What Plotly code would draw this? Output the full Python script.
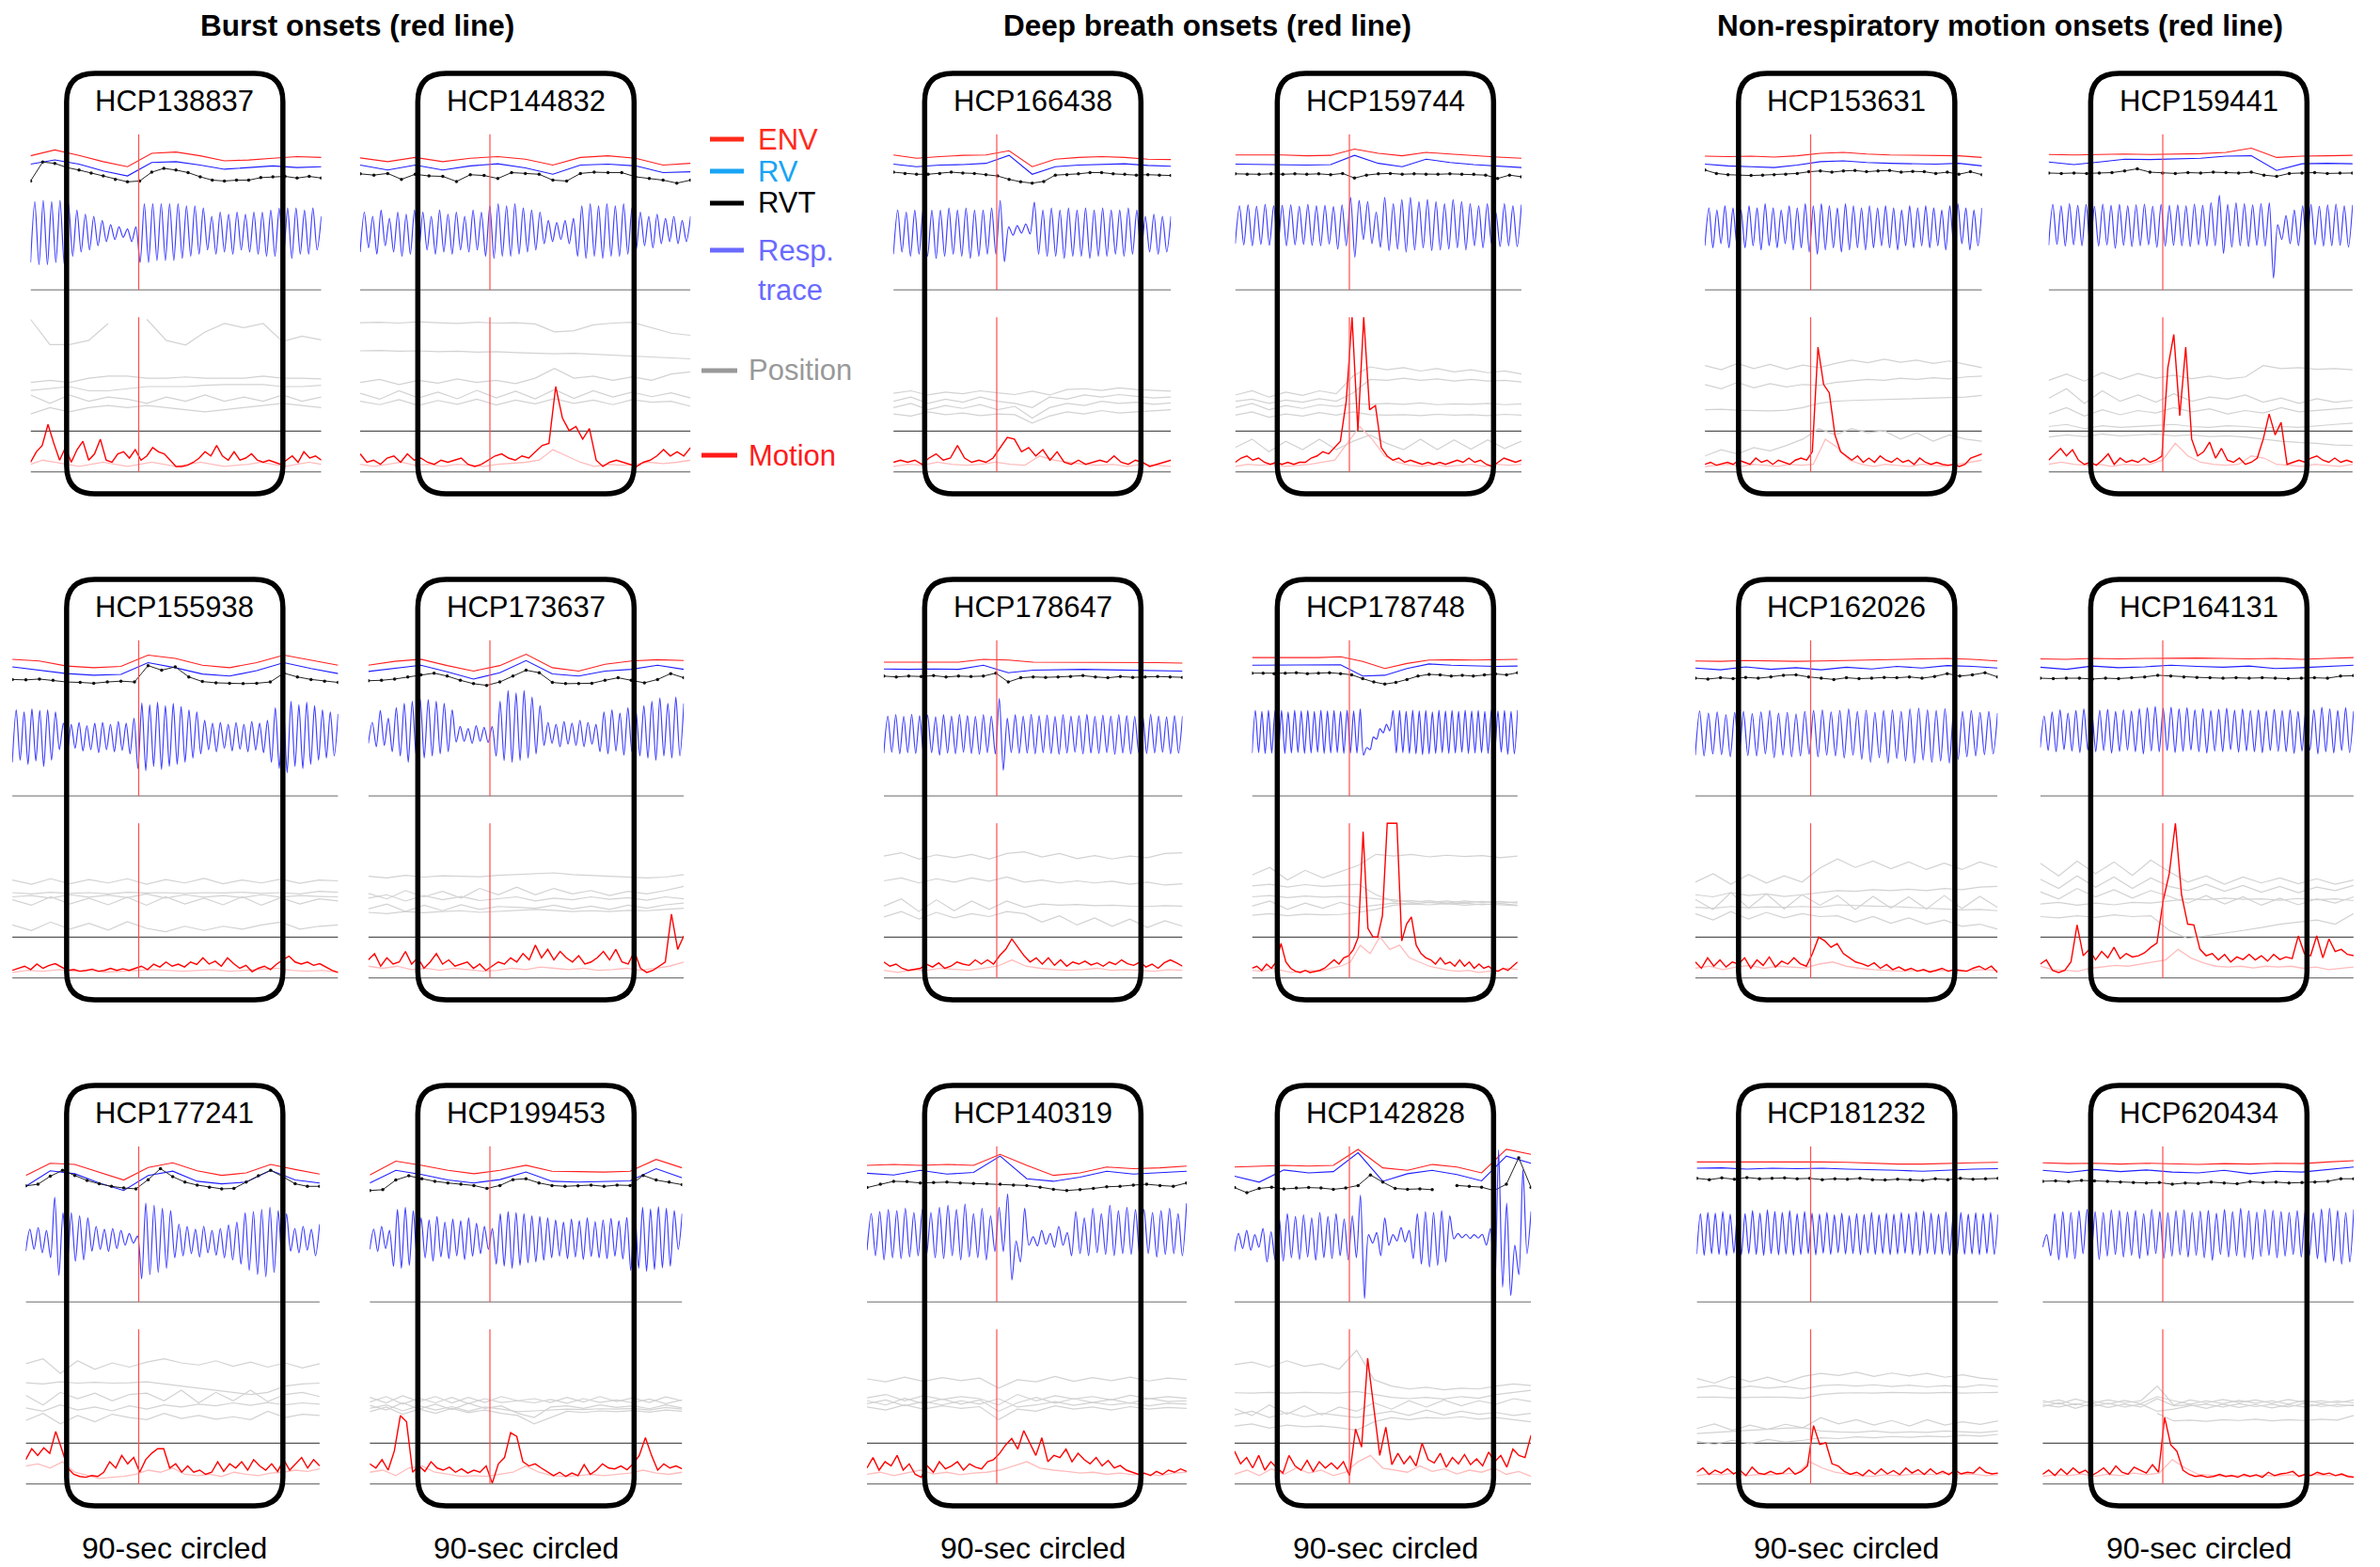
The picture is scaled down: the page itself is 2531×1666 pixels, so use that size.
import numpy as np
import plotly.graph_objects as go

W, H = 2531, 1666

col_titles = ["Burst onsets (red line)", "Deep breath onsets (red line)",
              "Non-respiratory motion onsets (red line)"]
subjects = ["HCP138837", "HCP144832", "HCP166438", "HCP159744", "HCP153631", "HCP159441",
            "HCP155938", "HCP173637", "HCP178647", "HCP178748", "HCP162026", "HCP164131",
            "HCP177241", "HCP199453", "HCP140319", "HCP142828", "HCP181232", "HCP620434"]
t_start = [-45, -54, -43, -47.5, -44, -47.5, -52.6, -50.6, -47, -40.5, -48, -51,
           -47, -50, -54, -47.8, -47.4, -50]
t_end = [76, 83.5, 72.5, 71.6, 71.3, 79, 83, 80.7, 77.3, 70, 77.8, 79.4,
         75.3, 80, 79, 75.6, 78, 79.5]
box_window = [-30, 60]
footer = "90-sec circled"

# ---------------- HCP138837 ----------------
env_138837 = [80.4, 81.8, 80.5, 79.0, 77.8, 81.0, 81.3, 80.4, 79.2, 79.4, 79.8, 80.2, 80.0]
rv_138837 = [78.4, 79.4, 78.4, 76.8, 75.6, 78.8, 79.0, 78.2, 77.2, 77.6, 78.0, 77.6, 77.8]
rvt_138837 = [74.4, 78.9, 78.6, 77.6, 77.0, 76.3, 75.6, 74.8, 74.2, 74.4, 76.5, 77.4, 77.0, 76.4, 75.4,
              74.6, 74.4, 74.6, 74.6, 75.2, 75.4, 75.5, 75.1, 75.5, 75.1]
pk_138837 = [69.5, 69.8, 69.5, 69.8, 69.0, 67.5, 66.5, 66.0, 65.0, 64.0, 63.5, 63.0, 63.5, 69.0, 69.0,
             69.0, 69.0, 69.0, 68.5, 68.5, 68.0, 66.0, 67.0, 66.5, 67.0, 66.5, 67.0, 67.0, 67.5, 68.0,
             68.0, 68.0, 67.5, 68.0, 66.0]
tr_138837 = [55.0, 54.5, 54.5, 55.0, 54.5, 56.5, 57.5, 58.0, 59.0, 60.0, 60.5, 61.0, 60.0, 55.0, 55.0,
             55.5, 55.5, 55.5, 56.0, 56.5, 57.0, 58.0, 57.0, 57.5, 57.0, 58.0, 57.5, 57.0, 56.5, 56.5,
             56.5, 56.0, 57.0, 57.0, 58.0]
pos_138837 = [
    [41.5, 35.5, 35.5, 36.5, 40.5, None, 41.5, 36.5, 35.4, 38.5, 40.5, 39.5, 40.5, 36.2, 37.5, 36.6],
    [26.5, 27.0, 26.5, 27.5, 28.0, 28.0, 27.5, 27.5, 27.8, 27.5, 27.5, 27.5, 28.0, 27.5, 27.5, 27.3],
    [24.6, 25.0, 25.5, 24.5, 24.5, 25.0, 25.5, 25.5, 25.5, 25.8, 26.0, 26.0, 26.0, 25.5, 25.5, 25.8],
    [23.5, 21.5, 23.5, 22.0, 23.0, 22.5, 21.5, 23.0, 22.0, 23.5, 22.0, 23.0, 22.0, 23.5, 22.0, 23.0],
    [19.0, 20.5, 19.5, 20.5, 21.0, 20.5, 21.0, 20.5, 20.0, 19.5, 20.0, 20.5, 21.0, 21.5, 21.0, 20.5]]
mot_138837 = [7.5, 10, 11.5, 16.5, 12, 8, 11, 7.5, 10.5, 12.5, 8, 9.5, 13, 8, 7.5, 9.5, 10, 8.5, 10.5, 8,
              9, 11, 10, 9.5, 8, 6.5, 6.5, 6.8, 7.5, 8.5, 10, 9, 11.5, 9, 8, 10, 8, 8.5, 9.5, 8, 7.5,
              8, 7.5, 7, 8, 9, 7.5, 10, 8.5, 9, 8]
pale_138837 = [7, 8, 7.5, 7, 6.5, 7, 7.5, 7, 6.5, 7, 7.5, 7, 6.5, 7, 7.5, 7, 6.5, 6.8, 7, 7.5, 7, 6.5,
               7, 7.5, 7]

# ---------------- HCP144832 ----------------
env_144832 = [79.9, 79.0, 80.0, 79.0, 79.8, 80.2, 79.6, 78.2, 80.0, 80.4, 79.8, 78.2, 78.6]
rv_144832 = [78.2, 77.0, 78.2, 77.0, 78.0, 78.5, 77.5, 76.0, 78.2, 78.4, 78.0, 76.4, 76.6]
rvt_144832 = [76.1, 75.8, 76.2, 74.8, 76.0, 75.6, 75.5, 74.3, 75.9, 75.7, 75.0, 76.4, 76.2, 76.0, 74.6,
              74.4, 76.2, 76.5, 76.4, 76.4, 75.4, 75.0, 74.6, 73.9, 74.6]
pk_144832 = [67, 66, 67.5, 65.5, 67, 66.5, 67.5, 67, 66, 67.5, 66.5, 67, 66, 67.5, 67, 68.5, 69, 68.5,
             69, 68, 67.5, 67, 65, 64.5, 65, 65.5, 68.5, 69, 68.5, 69, 68.5, 69, 68, 67, 66, 66.5,
             65.5, 66, 65, 66]
tr_144832 = [57.5, 58.5, 57, 59, 57.5, 56.5, 57, 57.5, 58, 57, 57.5, 57, 58, 57.5, 58, 56.5, 56, 56.5,
             56.5, 57, 57.5, 58, 59.5, 60, 60.5, 59.5, 56.5, 56, 56.5, 56, 56.5, 56.5, 57, 58, 59,
             58.5, 59.5, 60, 59.5, 60]
pos_144832 = [
    [40.7, 40.8, 40.6, 40.9, 40.7, 40.5, 40.8, 40.6, 40.7, 40.4, 38.5, 38.8, 40.2, 40.6, 40.8, 39.5, 38.2, 37.7],
    [34.0, 34.1, 33.9, 34.0, 33.8, 33.9, 33.7, 33.8, 33.6, 33.5, 33.3, 33.4, 33.2, 33.0, 32.8, 32.6, 32.4, 32.1],
    [26.5, 27.2, 26.0, 27.0, 26.3, 27.3, 26.5, 27.0, 26.2, 27.5, 29.8, 27.5, 28.0, 27.0, 27.8, 27.0, 28.5, 29.0],
    [23.9, 22.5, 24.5, 22.8, 24.2, 22.6, 24.6, 22.8, 24.4, 22.6, 24.8, 22.7, 24.5, 23.0, 24.2, 23.1, 24.0, 22.8],
    [22.0, 21.2, 22.4, 21.0, 22.2, 21.3, 22.5, 21.1, 22.3, 21.4, 22.6, 21.5, 22.3, 21.2, 22.4, 21.8, 22.0, 20.8]]
mot_144832 = [9.5, 7.5, 8, 7, 8.5, 9, 7.5, 9.5, 8, 8.5, 7.5, 7, 8, 7.5, 8, 8.5, 7, 6.5, 7, 8, 9, 9.5,
              8.5, 8, 9, 8.5, 10, 11.5, 12, 25.5, 18, 15, 16, 13, 15.5, 8, 6.5, 7.5, 8, 7.5, 7, 6.5,
              7.5, 8, 9, 10.5, 9, 10, 9, 11]
pale_144832 = [7, 6.5, 7, 7.5, 6.8, 7, 6.5, 7, 6.8, 6.5, 7, 7.2, 7.5, 8, 10.5, 9, 7.5, 6.5, 7, 6.8, 7,
               7.5, 7.2, 7.5, 8]

# ---------------- HCP166438 ----------------
env_166438 = [80.6, 79.8, 80.2, 80.5, 80.6, 81.6, 77.8, 79.6, 80.0, 80.2, 80.0, 79.6, 79.5]
rv_166438 = [78.4, 77.8, 78.2, 78.3, 78.6, 80.5, 76.0, 77.8, 78.2, 78.4, 78.5, 78.1, 77.9]
rvt_166438 = [76.5, 76.2, 76.0, 76.0, 76.2, 76.5, 76.3, 76.2, 75.9, 75.6, 74.8, 74.2, 73.9, 74.3, 75.8,
              75.9, 76.1, 76.4, 76.4, 76.1, 76.0, 75.8, 75.9, 75.8, 75.7]
pk_166438 = [67.5, 67, 67.5, 68, 67.5, 67.5, 68, 67.5, 68, 67.5, 67.5, 68, 69.8, 63.5, 63.8, 64.2, 69.4,
             67.5, 68, 67.5, 68, 67.5, 68, 67.5, 68, 67.5, 67.5, 68, 67.5, 66, 66.5, 66, 66]
tr_166438 = [57, 57.5, 56.5, 57, 56.5, 56, 56.5, 57, 56.5, 56, 56.5, 57, 57, 55.2, 61.5, 62, 61.8, 57,
             56.5, 56.5, 56, 56.5, 56.5, 56, 56.5, 56.5, 57, 56.5, 57, 57.5, 57.5, 57, 57.5]
pos_166438 = [
    [23.9, 24.5, 23.5, 24.2, 23.8, 24.5, 24.0, 23.6, 24.4, 23.5, 24.8, 25.0, 24.6, 25.2, 24.8, 24.6, 24.4],
    [22.0, 23.0, 21.5, 22.5, 21.8, 23.0, 22.0, 21.5, 20.5, 23.0, 22.5, 23.5, 23.0, 23.6, 23.2, 22.8, 23.0],
    [20.5, 21.5, 20.0, 21.0, 20.3, 21.2, 20.0, 20.8, 18.0, 20.5, 21.5, 21.0, 22.0, 21.5, 21.8, 21.3, 21.6],
    [19.0, 18.5, 19.5, 18.8, 19.2, 18.6, 19.0, 18.8, 16.8, 18.5, 19.5, 19.0, 19.8, 19.2, 19.5, 19.8, 20.0]]
mot_166438 = [7.5, 8, 7.5, 8, 7, 8.5, 9.5, 8, 8.5, 11.5, 8.5, 7.5, 8, 7.5, 8.5, 11, 13.4, 13, 10, 11, 9,
              10.5, 8, 10, 7.5, 7, 8, 7, 7.5, 8, 7.5, 9, 7.5, 7, 8, 7.5, 6.5, 7, 7.5, 8]
pale_166438 = [6.5, 7, 6.8, 7.5, 7, 6.8, 7, 7.5, 7, 6.8, 9, 8, 7.5, 7, 6.8, 7, 6.5, 7, 6.8, 6.5]

# ---------------- HCP159744 ----------------
env_159744 = [80.6, 80.6, 80.6, 80.4, 80.5, 82.0, 81.0, 80.4, 81.2, 80.8, 80.4, 80.1, 79.8]
rv_159744 = [78.4, 78.3, 78.2, 78.2, 78.3, 80.5, 78.6, 77.8, 79.6, 78.8, 78.3, 77.9, 77.6]
rvt_159744 = [76.1, 76.0, 76.0, 76.1, 76.0, 76.1, 76.0, 76.1, 75.9, 76.2, 75.1, 75.8, 76.1, 76.2, 76.0,
              76.1, 76.0, 76.0, 76.1, 76.0, 76.0, 75.8, 75.0, 75.8, 75.4]
pk_159744 = [68.5, 68.7, 68.4, 68.8, 68.5, 68.6, 68.7, 68.4, 68.8, 68.5, 68.6, 68.3, 68.7, 70.5, 69.8,
             69.5, 67, 70.5, 69, 70, 70.5, 69.5, 70, 69.5, 69, 70, 69.5, 69, 68.5, 69, 67, 69, 68.5, 68.8]
tr_159744 = [59.5, 59.2, 59, 59.3, 59.1, 59.4, 59, 59.2, 59.3, 59.1, 59, 59.4, 58.2, 59, 56.3, 60.5,
             59.5, 58.6, 57.8, 58.2, 57.5, 58, 58.5, 57.8, 58, 58.2, 58.5, 58, 59, 58.5, 59.5, 58.8,
             59, 58.8]
pos_159744 = [
    [23.5, 24.5, 23.0, 24.2, 23.4, 24.5, 23.8, 28.0, 30.2, 29.5, 30.0, 29.2, 29.8, 29.0, 29.5, 28.8, 29.2, 28.5],
    [22.0, 22.5, 21.5, 22.3, 21.8, 22.6, 22.0, 24.0, 27.2, 27.0, 27.5, 27.0, 27.3, 26.8, 27.2, 26.8, 27.0, 26.6],
    [20.5, 21.5, 20.0, 21.0, 20.3, 21.2, 20.8, 21.5, 21.3, 21.5, 21.3, 21.6, 21.2, 21.4, 21.3, 21.5, 21.2, 21.4],
    [18.7, 19.5, 18.2, 19.0, 18.5, 19.3, 18.7, 19.5, 18.8, 18.7, 18.8, 18.6, 18.9, 18.7, 18.8, 18.6, 18.9, 18.7],
    [11.0, 13.0, 10.0, 12.5, 10.5, 13.0, 10.5, 12.5, 14.0, 12.0, 10.5, 13.0, 10.5, 12.8, 10.6, 12.8, 10.8, 12.5]]
mot_159744 = [7.5, 8.5, 9, 8, 8.5, 7.5, 7, 7.5, 7, 7.5, 7, 7.5, 7.5, 8.5, 9, 10, 9.5, 11, 12.5, 22, 42,
              15, 42, 20, 21, 11, 9, 8, 8.5, 7.5, 8, 7.5, 7, 7.5, 7, 7.5, 7, 7.5, 8, 7.5, 8.5, 7.5, 8,
              7, 6.5, 7.5, 8.5, 8, 7.5, 8]
pale_159744 = [6.5, 7, 6.8, 7, 6.5, 6.8, 7, 7.5, 8, 12, 16, 13, 9, 7.5, 6.8, 6.5, 7, 6.5, 6.8, 7, 6.5,
               7, 6.8, 7]

# ---------------- HCP153631 ----------------
env_153631 = [80.3, 80.2, 80.3, 80.1, 80.4, 81.0, 81.2, 80.8, 80.6, 80.5, 80.4, 80.4, 80.0]
rv_153631 = [78.4, 78.0, 77.8, 77.6, 78.2, 79.0, 79.2, 78.8, 78.6, 78.5, 78.4, 78.6, 78.0]
rvt_153631 = [77.0, 76.2, 75.9, 75.8, 75.7, 75.8, 75.9, 76.0, 76.2, 76.6, 76.8, 76.5, 76.8, 76.9, 76.6,
              76.8, 76.9, 76.5, 76.7, 76.6, 76.2, 76.5, 76.0, 76.6, 75.9]
pk_153631 = [68, 67.5, 68.5, 68, 67.5, 68.5, 68, 69, 68, 67.5, 68.5, 68, 69, 68.5, 69, 68.5, 68, 69,
             68.5, 68, 68.5, 68, 68.5, 68, 67.5, 68.5, 68, 68.5, 68, 67.5, 68.5, 69, 68, 67.5, 68]
tr_153631 = [59, 58.5, 59.5, 58.5, 59, 58.5, 59, 58, 59, 58.5, 59.5, 58, 58.5, 57.5, 57, 58, 58.5, 57.5,
             58, 58.5, 58, 58.5, 59, 58.5, 58, 59, 58.5, 59, 58.5, 59, 58, 59, 59.5, 58, 59]
pos_153631 = [
    [30.5, 29.5, 31.0, 29.8, 30.8, 29.6, 30.6, 30.0, 31.0, 31.8, 31.2, 32.0, 31.3, 31.8, 31.0, 31.6, 30.8, 30.0],
    [26.0, 25.0, 26.5, 25.2, 26.2, 25.4, 26.0, 25.8, 26.5, 26.8, 27.2, 27.0, 27.5, 27.2, 27.6, 27.3, 27.8, 28.0],
    [20.0, 20.1, 19.9, 19.8, 19.7, 19.9, 20.5, 21.5, 22.0, 22.2, 22.3, 22.5, 22.6, 22.6, 22.7, 22.8, 23.0, 23.4],
    [9.0, 10.5, 9.5, 11.0, 10.2, 11.5, 13.0, 15.5, 14.0, 15.5, 14.5, 15.0, 13.0, 14.5, 12.5, 14.0, 13.0, 12.5]]
mot_153631 = [7, 7.5, 6.8, 7.2, 7.5, 7, 8, 7.5, 7, 8.5, 7.5, 8, 7, 8, 7.5, 7, 8, 8.5, 8, 10, 34.9, 26,
              24, 14, 10, 9, 8, 9, 7.5, 8.5, 7.5, 9, 8, 7.5, 8.5, 7.5, 8, 7, 8.5, 7.5, 7, 7.5, 7, 6.8,
              7, 6.5, 7, 8.5, 9, 9.5]
pale_153631 = [6.5, 6.8, 7, 6.5, 7, 6.8, 6.5, 7, 6.8, 7, 13, 11, 8, 7, 6.5, 7, 6.8, 6.5, 7, 6.8, 6.5,
               7, 7.5, 8]

# ---------------- HCP159441 ----------------
env_159441 = [80.7, 80.6, 80.7, 80.8, 80.7, 80.8, 80.9, 81.2, 82.2, 80.0, 80.3, 80.4, 80.5]
rv_159441 = [78.9, 78.3, 78.9, 79.6, 79.5, 79.6, 79.8, 80.3, 80.4, 76.9, 78.5, 78.6, 78.5]
rvt_159441 = [76.3, 76.2, 76.3, 76.2, 76.3, 76.4, 76.8, 77.3, 76.5, 76.3, 76.2, 76.4, 76.3, 76.5, 76.4,
              76.3, 76.5, 75.8, 75.5, 76.2, 76.3, 76.4, 76.2, 76.3, 76.3]
pk_159441 = [68.8, 68.5, 69, 68.6, 68.8, 68.4, 68.9, 68.6, 68.8, 68.5, 68.7, 68.9, 68.4, 68.8, 68.6,
             68.7, 68.5, 68.9, 68.6, 69.2, 71, 68.8, 69.2, 69, 68.7, 69, 69.2, 64, 66.2, 67.5, 68.5,
             68.8, 68.4, 68.7, 68.9, 68.5, 68.7]
tr_159441 = [59.1, 59.3, 58.9, 59.2, 59.0, 58.7, 58.9, 59.2, 58.4, 59.1, 58.8, 59.0, 59.2, 58.6, 58.9,
             59.1, 59.0, 58.8, 59.2, 58.9, 59.0, 57.2, 58.7, 59.0, 58.8, 59.1, 58.9, 51.3, 60.5, 59.5,
             59.0, 58.8, 59.2, 58.9, 59.0, 59.1, 58.7]
pos_159441 = [
    [27.0, 28.5, 26.8, 28.8, 27.2, 28.6, 27.5, 28.2, 27.4, 28.0, 27.3, 27.8, 30.5, 29.8, 30.0, 29.6, 29.8, 29.5],
    [22.7, 25.0, 21.5, 24.5, 22.0, 23.5, 21.8, 23.8, 22.0, 23.0, 22.5, 23.5, 21.8, 22.8, 21.5, 22.6, 21.8, 22.2],
    [19.0, 20.5, 18.5, 20.0, 18.8, 19.8, 19.2, 20.5, 19.5, 20.2, 19.0, 19.8, 19.2, 20.5, 19.5, 19.8, 20.2, 20.5],
    [16.0, 16.5, 15.5, 16.2, 15.8, 16.0, 16.2, 16.5, 16.0, 15.8, 16.2, 16.0, 15.6, 16.0, 15.8, 16.2, 16.5, 16.8],
    [13.5, 14.0, 13.6, 14.2, 13.8, 14.0, 14.2, 13.8, 14.0, 13.6, 13.8, 13.5, 13.0, 12.5, 12.2, 12.0, 11.6, 11.5]]
mot_159441 = [8, 9.5, 10.8, 9, 10.5, 8, 7, 7.5, 6.8, 8, 9.5, 7, 8.5, 7.5, 8, 7.5, 8.5, 7.5, 8, 9, 30,
              37.9, 18.6, 34.9, 13, 9, 10, 12.3, 8.5, 10.8, 8, 7.5, 8.5, 7, 7.5, 8.5, 13, 19, 14, 17,
              7, 7.5, 8, 7.5, 8.5, 9, 8, 7.5, 8.5, 7.5, 8, 7.5]
pale_159441 = [7, 7.5, 7, 6.8, 7, 6.5, 7, 6.8, 7, 8, 12, 9, 7.5, 7, 6.8, 7, 9, 8.5, 7, 6.8, 6.5, 7,
               6.8, 6.5, 7]

# ---------------- HCP155938 ----------------
env_155938 = [81.0, 80.6, 79.4, 79.0, 79.3, 82.0, 81.2, 79.6, 79.0, 80.2, 82.0, 80.8, 79.6]
rv_155938 = [79.2, 78.4, 77.6, 77.2, 77.4, 80.2, 79.0, 77.5, 77.0, 78.3, 80.2, 78.8, 77.6]
rvt_155938 = [76.2, 76.1, 76.3, 76.0, 75.6, 75.5, 75.3, 75.6, 75.8, 75.6, 79.5, 78.4, 79.2, 76.8, 75.7,
              75.4, 75.3, 75.2, 75.3, 75.6, 77.7, 76.8, 76.2, 75.8, 75.5]
pk_155938 = [69, 68.5, 69.2, 68.8, 69, 68.5, 65.8, 65.5, 66, 65.2, 65.8, 66, 65.5, 66.2, 65.8, 67,
             70.6, 70.2, 70.8, 70, 70.5, 69.8, 69, 68.5, 66.5, 65.8, 66, 65.5, 66, 65.5, 66.2, 65.8,
             66.5, 69.5, 70.5, 71, 70.2, 70.8, 70, 69, 68.5, 68]
tr_155938 = [56.5, 57, 56, 56.8, 55.5, 57, 59.5, 59, 59.8, 59.2, 59.5, 58.8, 59.5, 59, 59.3, 58.5, 55,
             54.5, 55.5, 54.8, 55.5, 56, 56.5, 57.5, 58.5, 59.5, 59, 59.8, 59.2, 59.6, 59, 59.4, 58.8,
             56.5, 55, 54, 55.5, 55, 56, 57, 57.5, 58]
pos_155938 = [
    [28.5, 27.5, 28.8, 27.6, 28.6, 27.8, 28.8, 27.5, 28.6, 27.8, 28.9, 27.6, 28.5, 27.8, 28.7, 27.7, 28.5, 28.3],
    [25.5, 25.2, 25.6, 25.3, 25.5, 25.2, 25.6, 25.4, 25.5, 25.3, 25.5, 25.4, 25.6, 25.3, 25.5, 25.2, 25.8, 25.6],
    [24.5, 24.8, 24.2, 25.0, 24.4, 24.9, 24.3, 25.2, 24.2, 25.0, 24.4, 24.8, 24.3, 25.0, 24.4, 24.8, 24.6, 24.5],
    [23.8, 22.5, 24.5, 22.8, 24.2, 22.6, 24.4, 22.5, 24.5, 22.8, 24.2, 22.6, 24.5, 22.5, 24.3, 22.8, 24.0, 23.5],
    [17.8, 16.5, 18.5, 16.8, 18.2, 16.6, 18.6, 17.0, 16.2, 17.5, 16.5, 17.5, 16.8, 17.8, 18.5, 16.8, 17.5, 17.8]]
mot_155938 = [7, 7.5, 8, 7.2, 8.5, 7.5, 8.2, 8.6, 7.8, 7, 7.2, 6.8, 7, 7.3, 6.8, 7, 7.5, 7, 7.4, 7, 7.5,
              8, 7.2, 8.5, 7.8, 9, 8, 8.5, 7.8, 9, 8.4, 10, 8.5, 9.2, 8, 10, 8.6, 7.5, 8.2, 6.7, 7.5, 8,
              7.2, 8.5, 9.5, 10.4, 9, 8.5, 9, 8.2, 8.6, 7.8, 7, 6.5]
pale_155938 = [6.5, 7, 6.8, 7.2, 6.8, 7, 6.6, 6.8, 7, 7.2, 7, 6.8, 7, 7.2, 6.8, 7, 7.2, 7.5, 7, 6.8, 7,
               6.5]

# ---------------- HCP173637 ----------------
env_173637 = [79.6, 80.5, 81.0, 79.5, 78.2, 79.5, 82.2, 79.0, 78.2, 79.8, 80.6, 80.9, 80.7]
rv_173637 = [78.1, 78.8, 79.6, 78.0, 76.3, 77.8, 80.7, 77.5, 77.0, 78.2, 78.6, 79.6, 78.6]
rvt_173637 = [75.9, 76.0, 76.3, 76.8, 77.3, 77.7, 77.0, 76.0, 75.2, 74.8, 75.6, 77.0, 78.4, 77.8, 75.5,
              75.2, 75.2, 75.3, 76.0, 76.6, 76.0, 75.4, 76.2, 77.6, 76.6]
pk_173637 = [66, 68.8, 67, 69.5, 70.5, 71, 71.5, 71.4, 71, 70.5, 69, 65, 64.5, 65.2, 64.8, 65, 71, 73.6,
             73, 73.6, 72, 70, 66, 65.5, 66.2, 65.8, 66.5, 66, 65.5, 68.5, 69, 68.2, 69.5, 68.8, 70,
             71, 71.8, 70.5, 72, 70.5]
tr_173637 = [61, 60.2, 60.5, 59, 58, 56.5, 58, 57.5, 58, 58.5, 59, 61.3, 61.5, 61, 61.5, 61.2, 58, 56.9,
             56.5, 56.9, 57.5, 58.5, 60.5, 61, 60.2, 60.8, 60.5, 60.2, 60.8, 59, 58.5, 59.2, 58.2, 59,
             58, 57.5, 57, 58, 57.5, 58]
pos_173637 = [
    [29.4, 29.0, 29.6, 29.2, 29.5, 29.4, 29.3, 29.6, 29.8, 30.0, 30.2, 29.8, 29.6, 29.4, 29.3, 29.0, 29.2, 29.8],
    [25.3, 24.0, 26.0, 24.5, 25.8, 24.2, 26.5, 25.0, 26.8, 25.0, 26.5, 25.2, 26.0, 24.8, 25.8, 25.2, 26.0, 27.0],
    [24.2, 25.0, 23.5, 24.8, 23.8, 24.6, 23.6, 24.0, 24.5, 23.5, 24.2, 23.8, 24.5, 23.9, 24.3, 23.7, 24.5, 24.0],
    [21.6, 22.8, 21.0, 22.5, 21.2, 22.6, 21.5, 22.2, 22.0, 21.8, 22.5, 21.6, 22.3, 21.5, 22.5, 21.8, 22.6, 23.0],
    [20.8, 20.5, 21.0, 20.7, 21.0, 21.2, 20.8, 21.0, 21.2, 21.5, 21.3, 21.0, 21.2, 21.0, 21.3, 21.2, 21.5, 21.8]]
mot_173637 = [9.5, 11, 8, 10, 8.5, 9, 11.5, 8.5, 10, 7.5, 9, 11, 8.5, 9.5, 8, 8.5, 9, 7.5, 8.5, 7, 8, 9,
              8.5, 10, 9, 11, 9.5, 13, 10, 12, 9.5, 11.5, 10, 9, 10.5, 8.5, 9, 10, 11.5, 9.5, 12, 9,
              8.5, 11.5, 7.5, 6.5, 7, 8, 9, 20.4, 12, 15.2]
pale_173637 = [8, 7.5, 8, 7.2, 7.5, 7, 7.5, 7.2, 6.8, 7, 7.5, 7.2, 7.8, 7.5, 7.2, 7.5, 7, 7.2, 7.5, 7,
               7.5, 8, 9]

# ---------------- HCP178647 ----------------
env_178647 = [80.3, 80.3, 80.4, 80.3, 81.0, 80.8, 80.3, 80.3, 80.2, 80.3, 80.2, 80.2, 80.1]
rv_178647 = [78.7, 78.6, 78.7, 78.6, 79.6, 77.8, 78.4, 78.5, 78.6, 78.5, 78.4, 78.3, 78.2]
rvt_178647 = [77.0, 76.8, 77.0, 76.9, 77.1, 76.8, 77.0, 76.9, 77.0, 77.7, 75.6, 76.6, 76.8, 76.7, 76.8,
              76.9, 77.1, 76.8, 76.6, 76.9, 76.7, 76.8, 76.9, 76.8, 76.7]
pk_178647 = [67.5, 67.8, 67.4, 67.9, 67.6, 67.7, 67.3, 67.8, 67.5, 67.9, 67.6, 67.4, 67.8, 67.5, 71.7,
             67, 67.8, 67.5, 67.9, 67.6, 67.7, 67.4, 67.8, 67.5, 67.6, 67.9, 67.4, 67.7, 67.5, 67.8,
             67.6, 67.4, 67.7, 67.9, 67.5, 67.3, 67.6, 67.5]
tr_178647 = [58.7, 58.9, 58.5, 58.8, 58.6, 58.4, 58.8, 58.2, 58.7, 58.5, 58.9, 58.6, 58.4, 58.8, 58.5,
             54.6, 58.8, 58.6, 58.7, 58.5, 58.8, 58.6, 58.4, 58.7, 58.9, 58.5, 58.7, 58.6, 58.8, 58.4,
             58.7, 58.5, 58.8, 58.6, 58.7, 58.9, 58.5, 58.7]
pos_178647 = [
    [34.2, 35.0, 33.5, 34.5, 33.8, 34.6, 33.5, 34.8, 35.2, 34.0, 34.8, 33.6, 34.3, 33.5, 34.2, 33.8, 34.8, 35.0],
    [28.3, 29.0, 27.8, 28.8, 28.0, 29.0, 28.2, 29.2, 28.0, 28.5, 27.8, 28.3, 27.8, 28.2, 27.5, 28.0, 27.3, 27.6],
    [22.3, 24.0, 21.0, 23.8, 21.2, 23.5, 21.5, 23.5, 22.0, 22.8, 22.5, 22.7, 22.4, 22.5, 22.3, 22.2, 22.4, 22.3],
    [19.7, 21.0, 19.2, 20.8, 19.5, 20.5, 19.8, 21.0, 20.5, 18.5, 20.0, 17.8, 19.5, 17.5, 19.2, 17.2, 18.8, 17.5]]
mot_178647 = [9, 8, 8.5, 7.5, 7, 7.2, 7.5, 8.5, 7.8, 8.8, 7.5, 8, 9, 8.5, 8.2, 9.5, 8.5, 9.5, 8.5, 10.5,
              12, 14.5, 12.5, 10.5, 9, 10, 8.5, 10, 8.2, 9.5, 8, 9, 8.5, 9.2, 8.3, 8.8, 8, 9, 8.4, 9.5,
              8.6, 8.2, 9, 7.8, 8.5, 7.5, 8.8, 9.5, 8.8, 8]
pale_178647 = [7, 6.5, 7.2, 7, 7.5, 7.2, 7, 7.5, 8, 9.5, 8, 7.5, 7.2, 7, 7.2, 7.5, 7, 7.2, 7, 6.8, 7.2, 7]

# ---------------- HCP178748 ----------------
env_178748 = [81.4, 81.4, 81.4, 81.4, 81.6, 80.5, 78.8, 80.0, 80.8, 80.9, 80.8, 80.9, 81.0]
rv_178748 = [79.6, 79.6, 79.7, 79.6, 79.7, 77.0, 77.2, 78.8, 79.9, 79.6, 79.4, 79.3, 79.4]
rvt_178748 = [77.7, 77.7, 77.6, 77.7, 77.8, 77.6, 77.7, 77.8, 77.6, 77.3, 76.4, 75.6, 75.1, 75.5, 76.2,
              77.0, 77.4, 77.3, 77.0, 77.2, 77.0, 77.3, 77.5, 77.3, 77.8]
pk_178748 = [68.8, 68.6, 68.9, 68.7, 68.8, 68.5, 68.9, 68.7, 68.8, 68.6, 68.9, 68.7, 68.8, 68.6, 68.9,
             68.7, 69.2, 60.0, 62.5, 64.5, 65.5, 68.8, 68.8, 68.6, 68.9, 68.7, 68.8, 68.5, 68.9, 68.7,
             68.8, 68.6, 68.9, 68.7, 68.8, 68.6, 68.9, 68.7, 68.8, 68.6, 68.9]
tr_178748 = [58.7, 58.8, 58.6, 58.7, 58.9, 58.6, 58.7, 58.8, 58.6, 58.7, 58.9, 58.6, 58.7, 58.8, 58.6,
             58.7, 58.7, 58.2, 59.5, 62.0, 63.5, 64.0, 58.7, 58.8, 58.6, 58.5, 58.3, 58.5, 58.6, 58.8,
             58.6, 58.7, 58.9, 58.6, 58.7, 58.8, 58.6, 58.7, 58.9, 58.4, 58.5]
pos_178748 = [
    [29.7, 31.5, 28.5, 30.8, 29.0, 30.5, 32.0, 34.6, 34.2, 34.6, 34.0, 34.4, 34.1, 34.3, 33.8, 34.2],
    [27.1, 27.5, 26.8, 27.4, 27.0, 27.2, 27.5, 25.0, 23.4, 23.6, 23.2, 23.5, 23.1, 23.4, 23.0, 23.3],
    [24.5, 24.8, 24.3, 24.7, 24.4, 24.6, 24.5, 24.0, 23.8, 23.2, 23.6, 23.0, 23.5, 23.2, 23.4, 23.0],
    [22.3, 23.5, 21.5, 23.0, 21.8, 23.2, 22.0, 22.5, 23.0, 22.8, 23.2, 22.8, 23.0, 22.6, 22.9, 22.5],
    [20.1, 20.5, 20.0, 20.4, 20.2, 20.3, 20.8, 21.5, 22.5, 22.8, 22.6, 22.9, 22.5, 22.8, 22.6, 22.4]]
mot_178748 = [7.5, 8, 7, 8.5, 7.5, 9, 13.4, 9, 7.5, 6.8, 6.5, 7, 6.5, 6.8, 7, 7.5, 8.5, 9.5, 8.5, 10,
              10.5, 12, 14.9, 40, 17, 15, 14.9, 20, 42, 42, 42, 14, 18, 19.7, 13, 11, 10, 9.5, 8.5, 10,
              8.5, 9, 8, 9.5, 8, 9, 7.5, 8.5, 7.5, 8, 7, 6.8, 7.5, 7, 8, 9]
pale_178748 = [7, 6.8, 7.5, 7, 6.5, 6.8, 7, 6.8, 7.5, 8, 9, 13, 11, 15, 12, 13, 10, 9, 8, 7.5, 7, 6.8,
               7, 6.5, 6.8, 7, 7.5, 7.2]

# ---------------- HCP162026 ----------------
env_162026 = [80.6, 80.5, 80.7, 80.6, 80.5, 80.6, 80.7, 80.8, 81.0, 81.0, 81.2, 81.0, 80.6]
rv_162026 = [78.9, 78.5, 79.2, 78.6, 79.0, 78.5, 79.1, 78.7, 79.3, 78.9, 79.5, 79.3, 78.9]
rvt_162026 = [76.5, 76.3, 76.6, 76.4, 76.7, 76.5, 76.8, 77.2, 77.3, 76.8, 76.5, 76.2, 76.6, 76.4, 76.5,
              76.7, 76.6, 76.8, 76.5, 76.9, 77.6, 77.0, 77.3, 77.8, 76.8]
pk_162026 = [68.7, 68.2, 68.5, 67.8, 68.4, 68.6, 68.1, 68.5, 68.8, 68.2, 68.4, 68.0, 68.6, 68.8, 69.0,
             68.5, 68.8, 69.2, 68.6, 68.9, 68.4, 68.8, 69.0, 68.6, 69.2, 69.4, 69.0, 68.8, 69.3, 69.0,
             68.6, 68.8, 68.4, 68.6, 68.2]
tr_162026 = [58.2, 58.0, 58.5, 58.3, 57.8, 58.4, 58.1, 58.0, 58.5, 57.6, 58.2, 57.8, 58.0, 58.4, 57.8,
             58.2, 58.0, 57.5, 58.2, 57.2, 56.5, 57.6, 56.3, 57.4, 56.8, 56.3, 57.0, 56.5, 56.8, 56.3,
             57.2, 57.8, 58.0, 58.3, 58.5]
pos_162026 = [
    [28.0, 30.0, 27.5, 29.8, 27.8, 29.5, 28.0, 31.3, 33.5, 31.5, 33.0, 31.2, 32.8, 31.0, 32.5, 31.0, 32.8, 31.5],
    [25.0, 24.5, 25.5, 24.8, 25.2, 24.6, 25.0, 25.5, 26.0, 25.8, 26.2, 26.0, 26.3, 26.0, 26.5, 26.2, 26.8, 27.0],
    [23.9, 21.5, 25.5, 21.8, 25.2, 21.6, 25.0, 22.5, 24.8, 21.5, 24.6, 21.8, 24.5, 21.6, 24.8, 21.7, 24.6, 22.0],
    [22.0, 21.8, 22.2, 21.9, 22.1, 22.0, 22.2, 22.0, 22.6, 22.4, 22.3, 22.2, 22.0, 21.8, 21.6, 21.4, 21.5, 21.2],
    [20.5, 19.0, 21.0, 19.2, 20.8, 19.5, 20.5, 19.8, 20.0, 18.5, 19.8, 18.2, 19.5, 18.0, 19.0, 17.5, 18.0, 16.8]]
mot_162026 = [9, 7.5, 10, 8, 9.5, 7.8, 9, 8.5, 10, 7.5, 9.5, 8.2, 10.2, 7.8, 9.2, 8.5, 10, 8.6, 8, 11,
              14.9, 14, 12.5, 13.4, 11, 10, 9, 8.6, 8, 8.8, 7.5, 8.4, 7.2, 7.8, 7, 7.5, 6.8, 7.2, 6.6,
              7, 7.5, 6.8, 7.2, 7, 6.8, 7.5, 8, 7.2, 8, 6.5]
pale_162026 = [7.5, 8, 7.2, 7.8, 8.2, 7.5, 8, 7.8, 7.6, 8.5, 9, 8, 7.5, 7.2, 7, 6.8, 7, 6.8, 7, 6.8, 7,
               7.2, 7]

# ---------------- HCP164131 ----------------
env_164131 = [81.1, 81.0, 81.2, 81.1, 81.2, 81.3, 81.3, 81.2, 81.1, 81.2, 81.0, 81.2, 81.4]
rv_164131 = [79.1, 78.6, 79.4, 79.0, 79.2, 79.6, 79.3, 79.1, 79.4, 78.8, 79.0, 79.3, 79.6]
rvt_164131 = [76.5, 76.4, 76.5, 76.5, 76.3, 76.5, 76.4, 76.6, 76.8, 77.2, 77.0, 76.8, 76.7, 76.6, 76.5,
              76.6, 76.5, 76.6, 76.5, 76.4, 76.5, 76.6, 76.5, 77.0, 77.1]
pk_164131 = [67.5, 68.5, 69.0, 68.2, 68.8, 69.2, 68.5, 68.9, 69.1, 68.6, 69.0, 68.7, 69.3, 69.5, 69.8,
             69.4, 69.6, 69.2, 69.5, 69.0, 69.3, 68.8, 69.1, 69.4, 68.9, 69.2, 68.8, 69.0, 68.7, 69.1,
             68.8, 69.0, 68.6, 69.3, 69.0, 69.6, 69.2, 68.8, 69.5, 68.6]
tr_164131 = [60.0, 59.3, 59.0, 59.5, 59.2, 58.8, 59.4, 59.0, 59.3, 58.7, 59.1, 59.4, 59.0, 58.5, 59.2,
             59.0, 59.3, 58.8, 59.1, 59.4, 59.0, 58.7, 59.2, 59.0, 59.5, 58.9, 59.2, 59.0, 58.8, 59.3,
             59.1, 59.0, 58.6, 59.2, 59.4, 58.5, 59.0, 58.7, 59.3, 58.8]
pos_164131 = [
    [32.5, 29.5, 33.0, 30.0, 32.8, 29.6, 33.2, 30.5, 28.0, 29.5, 27.5, 29.2, 27.8, 29.0, 27.6, 28.8, 27.5, 28.5],
    [28.7, 26.5, 29.5, 26.8, 29.2, 26.5, 29.0, 27.0, 26.0, 27.5, 25.8, 27.2, 25.6, 27.0, 25.5, 26.8, 26.0, 27.2],
    [25.7, 24.0, 26.5, 24.5, 26.2, 24.2, 26.0, 24.6, 23.0, 24.8, 22.8, 24.5, 22.5, 24.2, 22.6, 24.0, 23.0, 24.5],
    [22.8, 23.2, 22.5, 23.0, 22.6, 23.2, 23.0, 23.5, 24.0, 23.8, 24.2, 23.9, 24.0, 23.7, 24.1, 23.8, 24.0, 23.6],
    [19.8, 19.5, 20.0, 19.6, 20.2, 19.8, 20.0, 16.5, 14.6, 15.2, 15.8, 16.5, 17.2, 18.0, 18.5, 19.0, 18.0, 20.5]]
mot_164131 = [8.5, 9.5, 7, 6.5, 7, 9, 17.8, 10.5, 12, 9.5, 11.5, 10, 12.5, 9.8, 11, 10.2, 10.5, 11.2,
              12.5, 13.5, 23.5, 30, 42, 25, 18, 17.8, 12, 10.5, 11, 9.5, 10.8, 9, 10.2, 9.6, 10.8, 9.5,
              10.5, 9.2, 10.8, 9.6, 10.2, 9.8, 15.2, 11, 10.5, 15.2, 10, 14.5, 11.5, 12, 10.8, 10.5]
pale_164131 = [8, 7.2, 7, 6.8, 7.5, 7.8, 8.2, 8, 8.5, 9, 9.5, 12, 10, 8.8, 8, 7.8, 8, 7.6, 8, 7.8, 8,
               7.5, 7.8, 7.2, 7.5, 7.8]

# ---------------- HCP177241 ----------------
env_177241 = [78.6, 81.5, 81.2, 79.4, 77.5, 80.5, 81.6, 79.7, 78.6, 79.2, 81.2, 80.0, 78.9]
rv_177241 = [76.0, 79.7, 79.0, 76.8, 75.0, 78.6, 79.6, 77.2, 76.6, 77.0, 79.8, 77.5, 76.8]
rvt_177241 = [76.1, 76.5, 78.4, 79.8, 78.6, 77.4, 76.6, 76.0, 75.6, 75.4, 77.6, 80.2, 78.3, 77.0, 76.3,
              75.8, 75.4, 75.5, 77.0, 78.5, 79.8, 78.3, 76.6, 76.0, 76.0]
pk_177241 = [65.8, 66.2, 65.5, 73.4, 69.7, 69.7, 69, 68.5, 66.5, 65.8, 66, 65.5, 64.8, 64.2, 72, 71.5,
             70.8, 70.2, 67, 66.5, 65.8, 66.5, 65.5, 66, 66.8, 67.5, 69.7, 70, 70.5, 71, 70.2, 69.5,
             66, 66.5, 65.8, 67]
tr_177241 = [60.6, 61, 60.2, 59, 54.8, 57.7, 58.2, 58.5, 60.6, 61, 60.5, 61.2, 62, 62.5, 54, 55, 55.5,
             56.5, 59, 59.5, 60, 59.2, 60.2, 59.6, 59, 58.5, 57.5, 56, 55, 54.5, 55.5, 57, 60.6, 60.2,
             60.8, 59.5]
pos_177241 = [
    [33.8, 35.0, 31.5, 34.5, 32.5, 34.0, 33.0, 34.2, 35.0, 34.0, 33.5, 34.5, 33.2, 34.2, 33.0, 34.0, 32.8, 33.8],
    [29.3, 29.0, 29.5, 29.2, 29.4, 29.2, 29.3, 29.5, 29.0, 28.5, 28.0, 27.5, 27.0, 26.5, 27.0, 28.5, 29.0, 29.2],
    [26.3, 24.0, 27.0, 25.5, 26.8, 25.0, 26.5, 26.8, 25.0, 27.5, 24.5, 27.0, 25.0, 27.5, 24.8, 26.5, 27.0, 26.0],
    [23.3, 22.5, 24.0, 22.8, 23.5, 22.6, 23.8, 23.0, 24.0, 23.5, 24.2, 23.8, 24.5, 23.9, 24.6, 24.0, 24.5, 24.2],
    [20.3, 22.0, 19.5, 21.5, 20.0, 21.8, 21.0, 20.5, 22.0, 20.8, 21.5, 20.6, 21.2, 20.5, 22.5, 21.0, 21.8, 21.5]]
mot_177241 = [11, 13.6, 12, 13.8, 12.5, 17.7, 13.5, 9, 7.5, 7, 6.8, 7.2, 7, 8, 10.5, 9, 12, 10, 11.5, 8,
              11, 12.5, 13.6, 13.6, 9, 10, 8, 9.5, 8, 8.5, 7.5, 8, 10.5, 8.2, 10, 9, 10.5, 8.5, 11, 9.5,
              8.5, 10, 8.2, 11, 8.5, 10, 11.5, 9, 11, 9.5]
pale_177241 = [9.5, 10, 9, 10.5, 8, 7.2, 6.5, 6.8, 7, 7.5, 8.5, 8, 9, 7.5, 7.2, 7.5, 7, 8, 7.5, 7.2, 7.8,
               8, 8.5, 8.2, 8.8]

# ---------------- HCP199453 ----------------
env_199453 = [78.7, 82.0, 81.0, 79.8, 79.0, 79.8, 81.0, 79.6, 79.5, 79.4, 79.6, 82.4, 80.4]
rv_199453 = [76.8, 79.8, 78.8, 77.5, 76.8, 77.6, 79.4, 77.2, 77.0, 77.1, 77.3, 80.2, 78.0]
rvt_199453 = [75.0, 75.2, 77.5, 78.5, 77.8, 77.2, 76.8, 76.5, 76.2, 75.5, 76.2, 77.6, 77.8, 76.8, 76.2,
              76.0, 76.1, 76.3, 76.0, 76.3, 76.2, 78.6, 77.5, 77.0, 76.4]
pk_199453 = [65.8, 66.5, 65.5, 70.5, 71, 70.2, 68.5, 68, 68.8, 67.5, 68.2, 67.8, 68.5, 67.2, 66.5, 66,
             69.5, 70, 69.8, 69.5, 69, 68.8, 68.5, 68, 67.5, 68.2, 67.8, 68.5, 67.6, 68, 68.4, 67.8,
             68.6, 70.5, 71, 70.6, 71.2, 70.8, 70.2, 69.5]
tr_199453 = [61, 60.5, 61.2, 57, 56.5, 57.2, 58.5, 59, 58.2, 59.2, 58.8, 59.5, 58.6, 59.4, 60, 61, 57.5,
             57, 56.5, 57.2, 57.8, 58, 58.4, 59, 59.4, 58.8, 59.2, 58.6, 59.3, 59, 58.8, 59.4, 58.7, 56,
             56.5, 55.8, 56.2, 56.6, 57, 61]
pos_199453 = [
    [25.8, 24.5, 26.2, 24.8, 26.0, 24.5, 25.8, 24.6, 26.0, 25.0, 25.5, 24.6, 25.8, 24.7, 26.0, 24.8, 25.7, 24.6, 25.9, 25.0],
    [24.7, 26.0, 24.2, 25.6, 24.5, 25.8, 24.3, 25.5, 24.6, 25.0, 24.5, 25.3, 24.4, 25.5, 24.6, 25.2, 24.5, 25.4, 24.3, 25.2],
    [23.9, 22.8, 24.5, 23.0, 24.2, 22.9, 24.4, 23.2, 23.8, 22.0, 21.0, 23.5, 23.8, 23.2, 24.0, 23.4, 23.8, 23.1, 24.0, 23.3],
    [23.2, 24.0, 22.6, 23.8, 22.8, 23.6, 22.5, 23.5, 23.0, 22.4, 22.6, 22.8, 23.0, 22.9, 23.1, 23.0, 23.2, 22.8, 23.4, 23.0],
    [22.4, 23.5, 21.8, 23.0, 22.0, 23.2, 22.2, 22.8, 22.0, 21.5, 19.5, 21.0, 22.5, 22.2, 22.6, 22.4, 22.7, 22.3, 22.8, 22.5]]
mot_199453 = [10, 9, 11, 8.5, 13, 21.5, 20, 8, 9.5, 8.2, 10.5, 9, 8.5, 9.2, 8, 8.8, 7.8, 8.5, 8, 9.5,
              5.4, 10, 11.5, 17.4, 16.5, 10.5, 9.5, 10, 9, 8, 7.2, 8, 7, 7.8, 7.2, 9.8, 7.5, 8.5, 10, 9,
              8.8, 9.5, 8.6, 10, 12, 16.2, 12, 8.5, 10, 9, 9.5, 8.8]
pale_199453 = [8, 8.5, 7.2, 9, 9.5, 8, 7.5, 7, 7.2, 7, 7.5, 8, 9.5, 8, 7.2, 7, 7.2, 7.5, 7.2, 7.5, 7.8,
               8.5, 7.8, 7.5, 8]

# ---------------- HCP140319 ----------------
env_140319 = [81.0, 81.2, 81.0, 81.2, 81.0, 83.6, 81.0, 78.6, 79.2, 80.6, 80.2, 80.4, 80.8]
rv_140319 = [79.1, 78.7, 79.8, 78.9, 79.3, 83.2, 77.8, 77.2, 78.2, 79.6, 78.9, 79.2, 79.6]
rvt_140319 = [75.7, 76.5, 77.2, 77.1, 76.8, 76.9, 77.0, 76.8, 76.7, 76.6, 76.5, 76.3, 76.2, 75.8, 75.3,
              75.0, 75.2, 75.5, 75.9, 76.0, 76.3, 76.5, 76.2, 76.0, 76.8]
pk_140319 = [69.5, 70, 70.5, 70.2, 70.8, 69.8, 70.5, 69.8, 71, 71.5, 70.5, 71.8, 69.5, 70.8, 69, 71,
             74.2, 63, 70.8, 64, 65.5, 64.8, 66.5, 65, 70, 68.5, 70.8, 69.5, 71.5, 70.2, 71, 70.5, 70.5,
             69.8, 70.2, 70.8, 69.5, 72]
tr_140319 = [60.8, 59.5, 58.5, 59, 58.8, 59.2, 59.5, 59.8, 59, 58.8, 59.5, 58.5, 59.2, 59, 58.5, 60.5,
             60.5, 53.7, 58, 62, 61.8, 62.2, 61.5, 62, 59.5, 60, 59.5, 60.2, 59.8, 59.5, 60, 59.8, 59.5,
             60, 59.2, 59.8, 60, 59.5]
pos_140319 = [
    [30.2, 29.5, 30.6, 29.6, 30.5, 29.8, 30.4, 28.0, 30.0, 29.5, 30.8, 29.6, 30.5, 29.8, 30.6, 29.7, 30.4, 30.0],
    [25.7, 26.5, 25.0, 26.2, 25.3, 26.0, 25.5, 24.0, 26.5, 25.0, 26.2, 25.4, 26.0, 25.2, 26.3, 25.5, 26.0, 25.6],
    [25.0, 24.0, 25.6, 24.3, 25.4, 24.2, 25.2, 22.5, 24.5, 25.8, 24.4, 25.5, 24.6, 25.3, 24.4, 25.6, 24.8, 25.0],
    [24.3, 25.2, 23.8, 24.8, 24.0, 25.0, 24.2, 25.5, 23.5, 24.0, 24.8, 23.9, 24.6, 24.0, 24.5, 23.8, 24.4, 24.2],
    [23.5, 22.8, 24.0, 23.0, 23.8, 23.2, 23.6, 20.5, 23.0, 22.5, 23.8, 23.0, 23.5, 22.8, 23.6, 23.0, 23.4, 23.2]]
mot_140319 = [9, 11.5, 8.5, 10.5, 9.5, 12, 8.5, 10, 7.5, 6.8, 9.5, 8, 10.5, 8.8, 9.5, 10.5, 8.5, 10, 9.2,
              8.8, 10.5, 11, 12.5, 14.5, 16, 13.5, 17.9, 15, 12, 16.2, 10.5, 12, 11.5, 13.5, 10.5, 12.5,
              11, 10, 11.5, 9.5, 10.8, 9, 9.6, 8.5, 8, 7.5, 7.8, 7.2, 8.2, 7.5, 8.5, 8, 8.8, 8.2]
pale_140319 = [7.5, 8, 7.2, 7.8, 8.5, 7.6, 8, 7.4, 7.8, 8, 8.5, 9.5, 10.5, 9, 8.5, 8.2, 7.8, 8, 7.5, 7.8,
               7.4, 7.6, 7.2, 7.8, 8]

# ---------------- HCP142828 ----------------
env_142828 = [80.6, 80.8, 81.0, 80.8, 81.0, 84.8, 80.4, 79.8, 81.2, 80.6, 79.2, 84.8, 83.6]
rv_142828 = [78.4, 77.0, 79.9, 79.2, 79.5, 84.0, 77.2, 79.0, 79.8, 78.8, 77.3, 83.2, 81.5]
rvt_142828 = [75.7, 74.5, 75.5, 75.8, 75.4, 75.6, 75.7, 75.6, 75.3, 75.6, 76.2, 78.7, 77.0, 75.5, 75.3,
              75.4, 75.2, None, 76.2, 76.0, 75.8, 75.0, 76.5, 82.8, 75.7]
pk_142828 = [64.8, 65.5, 64.5, 66, 65.2, 68.5, 69.5, 68.8, 69.2, 68.5, 69.8, 68.8, 69.5, 68.2, 69, 73.9,
             64.5, 65, 68.5, 64.5, 66.2, 65.5, 69.5, 70, 69.8, 70.2, 69, 64.8, 64.6, 64.5, 64.6, 66,
             84.7, 72, 62, 80, 70]
tr_142828 = [60.5, 61.2, 60.8, 61.5, 58, 58.5, 58.2, 59, 58.6, 59.2, 58.4, 59, 58.8, 59.5, 58.5, 59,
             49.3, 62.5, 59.5, 62, 63, 62.8, 58.8, 57.5, 56.8, 57.2, 58, 63.5, 63.8, 63.6, 63.7, 62,
             49.5, 52, 50, 55, 60]
pos_142828 = [
    [33.6, 34.2, 33.0, 34.5, 33.2, 33.8, 32.5, 37.0, 30.0, 28.5, 27.8, 28.2, 27.6, 28.0, 27.8, 28.5, 29.0, 28.6],
    [26.9, 26.8, 27.0, 26.8, 27.0, 26.9, 26.8, 27.2, 26.5, 25.8, 25.5, 25.8, 25.4, 26.0, 25.6, 26.5, 27.0, 27.5],
    [23.1, 21.5, 24.0, 21.8, 23.8, 21.6, 23.5, 22.5, 24.5, 23.0, 25.0, 23.5, 25.2, 23.8, 25.0, 24.2, 25.5, 24.8],
    [21.6, 22.5, 21.0, 22.2, 21.2, 22.0, 21.5, 21.0, 21.8, 22.5, 21.5, 22.8, 21.6, 22.5, 21.8, 22.2, 21.5, 22.0],
    [19.0, 19.5, 18.5, 19.2, 18.8, 19.0, 18.6, 18.0, 20.0, 21.0, 20.5, 21.0, 20.8, 21.2, 20.6, 21.0, 20.5, 20.0]]
mot_142828 = [13, 10, 11.5, 9, 12, 8.5, 10.5, 9, 7.8, 12, 9.5, 8.5, 10.8, 8.2, 10.5, 9, 10.2, 8.8, 10.5,
              7.2, 18.3, 14, 35.1, 24, 12, 18.7, 9.8, 12.5, 10, 11.8, 9.5, 14.9, 11, 10.2, 12.5, 9.2,
              11.5, 10, 12.2, 9.8, 11.2, 9.5, 12.8, 10.5, 12, 9.2, 13.5, 12, 11.5, 16.8]
pale_142828 = [7.5, 8.5, 7.2, 8.8, 7.5, 9, 7.8, 8.5, 7.2, 8, 10.5, 12, 9, 8.5, 8, 9.5, 8.2, 8.8, 7.6, 8.5,
               8, 9, 7.5, 8.2, 7]

# ---------------- HCP181232 ----------------
env_181232 = [81.8, 81.8, 81.9, 81.8, 81.9, 81.8, 81.7, 81.5, 81.3, 81.3, 81.5, 81.6, 81.7]
rv_181232 = [80.3, 80.4, 80.1, 80.3, 80.2, 80.3, 80.1, 80.0, 79.8, 79.6, 79.9, 80.1, 80.2]
rvt_181232 = [77.9, 77.6, 78.0, 77.7, 78.1, 77.8, 77.9, 78.0, 77.8, 77.9, 77.6, 77.8, 77.7, 77.9, 77.6,
              77.5, 77.7, 77.6, 77.4, 77.8, 77.6, 77.9, 77.7, 77.8, 77.9]
pk_181232 = [69.5, 69.8, 69.6, 70.0, 69.4, 69.8, 69.5, 70.2, 69.6, 70.4, 70.0, 69.8, 70.2, 69.5, 70.0,
             69.6, 69.4, 69.8, 69.2, 69.6, 69.0, 69.5, 69.3, 69.8, 69.2, 69.6, 69.4, 69.8, 69.5, 69.9,
             70.1, 69.6, 69.4, 69.9, 69.5, 69.8, 69.4, 69.7, 69.5, 69.8, 69.3]
tr_181232 = [59.9, 59.6, 60.0, 59.8, 59.5, 60.1, 59.7, 60.0, 59.8, 59.6, 60.0, 59.7, 59.9, 59.6, 59.8,
             60.0, 59.7, 60.1, 59.8, 60.2, 59.9, 60.0, 59.7, 60.1, 59.8, 60.0, 59.7, 59.9, 60.1, 59.8,
             59.6, 60.0, 59.8, 59.9, 59.6, 60.0, 59.8, 59.9, 59.7, 60.0, 59.8]
pos_181232 = [
    [30.3, 29.2, 30.8, 29.5, 30.6, 29.4, 30.8, 31.5, 31.0, 31.8, 30.8, 31.6, 30.9, 31.5, 30.6, 31.2, 30.4, 30.0],
    [28.1, 28.6, 27.8, 28.5, 28.0, 28.4, 27.8, 28.6, 28.8, 28.5, 28.8, 28.4, 28.7, 28.3, 28.6, 28.2, 28.8, 28.4],
    [25.8, 25.9, 25.7, 25.8, 25.9, 25.8, 25.6, 26.5, 26.8, 26.9, 26.8, 27.0, 26.9, 26.8, 27.0, 26.8, 26.9, 27.0],
    [18.4, 19.5, 18.0, 19.2, 18.2, 19.4, 18.6, 21.0, 19.5, 20.5, 19.2, 20.3, 19.0, 20.5, 19.2, 20.0, 19.4, 20.2],
    [17.2, 17.5, 17.8, 18.0, 18.2, 18.5, 18.6, 17.8, 17.6, 17.5, 17.8, 17.4, 17.6, 17.5, 17.8, 17.6, 17.4, 17.8],
    [15.4, 14.6, 15.6, 14.8, 15.8, 15.2, 15.6, 16.2, 16.0, 16.4, 16.2, 16.5, 16.3, 16.6, 16.4, 16.8, 16.6, 17.0]]
mot_181232 = [8, 9, 7.5, 8.5, 7.8, 8.8, 7.6, 8.5, 7.2, 9.2, 7.8, 7.5, 8.2, 7.6, 7.8, 9, 7.5, 8.2, 9.5,
              19.1, 14.6, 15, 10, 9.5, 8.2, 7.5, 8, 7.2, 8.5, 7.5, 8.8, 7.6, 8.4, 7.4, 9, 7.8, 8.6, 7.5,
              8.8, 7.6, 8.2, 7.4, 8.5, 7.6, 8, 7.8, 9.2, 8, 7.6, 7.8]
pale_181232 = [7.2, 7.6, 7.4, 7.8, 7.2, 7.5, 7.4, 7.6, 7.8, 10.5, 9, 8, 7.5, 7.2, 7, 7.4, 7.2, 7.5, 7.6,
               7.4, 7.8, 7.5, 7.6, 7.2, 7.4]

# ---------------- HCP620434 ----------------
env_620434 = [81.6, 81.4, 81.5, 81.3, 81.5, 81.4, 81.2, 81.4, 81.3, 81.5, 81.4, 81.8, 82.1]
rv_620434 = [79.8, 79.3, 80.0, 79.5, 79.9, 79.4, 79.2, 79.8, 79.0, 79.6, 79.4, 80.0, 80.6]
rvt_620434 = [77.2, 77.3, 77.1, 77.4, 77.3, 77.2, 77.0, 76.9, 76.8, 76.9, 76.5, 76.8, 76.7, 77.0, 76.8,
              76.6, 77.1, 76.9, 77.0, 76.8, 76.9, 77.0, 77.2, 77.8, 77.8]
pk_620434 = [64.5, 69.5, 70, 69.8, 70.2, 70.5, 70, 69.8, 70.4, 70.2, 69.9, 70.3, 69.5, 70.5, 70.0, 69.7,
             70.2, 70.4, 69.8, 70.1, 70.3, 69.6, 70.5, 70.0, 70.8, 70.2, 69.9, 70.5, 70.3, 70.0, 69.8,
             70.2, 70.4, 69.7, 70.6, 70.8, 70.3, 69.8, 70.5]
tr_620434 = [61.5, 59.5, 58.5, 59.0, 58.8, 60.0, 59.2, 58.6, 59.4, 59.8, 59.2, 59.6, 58.8, 59.5, 60.0,
             58.9, 59.4, 59.7, 59.2, 59.6, 59.0, 58.4, 59.8, 59.2, 59.5, 59.0, 58.6, 59.3, 59.6, 59.0,
             59.4, 59.8, 59.2, 59.5, 58.8, 57.8, 58.2, 57.5, 58.0]
pos_620434 = [
    [25.0, 24.2, 25.4, 24.4, 25.2, 24.5, 25.0, 28.5, 24.0, 25.2, 24.5, 25.3, 24.6, 25.2, 24.4, 25.3, 24.6, 25.0, 24.5, 25.2],
    [24.5, 25.2, 24.0, 25.0, 24.2, 25.1, 24.3, 26.0, 25.0, 24.2, 25.0, 24.3, 25.1, 24.4, 25.0, 24.2, 25.1, 24.4, 24.9, 24.5],
    [23.6, 24.5, 23.2, 24.3, 23.4, 24.2, 23.5, 25.5, 23.8, 24.0, 23.2, 24.2, 23.4, 24.1, 23.3, 24.0, 23.5, 24.2, 23.6, 24.0],
    [24.0, 23.5, 24.3, 23.6, 24.4, 23.5, 24.2, 22.5, 23.0, 23.8, 24.2, 23.5, 24.3, 23.6, 24.2, 23.5, 24.4, 23.6, 24.1, 23.8],
    [None, None, None, None, None, None, None, 22.0, 20.2, 20.4, 20.1, 20.5, 20.3, 20.6, 20.2, 20.5, 20.3, 20.6, 20.4, 21.5]]
mot_620434 = [7.5, 8.5, 7.2, 8.8, 7.5, 9, 7.8, 8.5, 7.2, 8, 9, 7.5, 9.5, 8, 7.5, 9.2, 8.5, 7.8, 9.8, 8, 21,
              14.5, 13, 8.5, 7.5, 7, 7.2, 6.8, 7, 7.5, 7, 7.2, 6.8, 7.5, 7, 7.4, 6.8, 8, 7.2, 7.6, 7.8,
              8.2, 7, 7.5, 7.2, 8, 7.5, 7.8, 7.2, 7.6, 7, 6.8]
pale_620434 = [7, 7.4, 7.2, 7.6, 7, 7.5, 7.2, 7.8, 7.4, 7.8, 11, 9, 7.5, 7.2, 7, 7.2, 7, 7.3, 7.1, 7.4,
               7.2, 7.5, 7.2, 7.3, 7]

panels = {
    "HCP138837": (env_138837, rv_138837, rvt_138837, pk_138837, tr_138837, pos_138837, mot_138837, pale_138837),
    "HCP144832": (env_144832, rv_144832, rvt_144832, pk_144832, tr_144832, pos_144832, mot_144832, pale_144832),
    "HCP166438": (env_166438, rv_166438, rvt_166438, pk_166438, tr_166438, pos_166438, mot_166438, pale_166438),
    "HCP159744": (env_159744, rv_159744, rvt_159744, pk_159744, tr_159744, pos_159744, mot_159744, pale_159744),
    "HCP153631": (env_153631, rv_153631, rvt_153631, pk_153631, tr_153631, pos_153631, mot_153631, pale_153631),
    "HCP159441": (env_159441, rv_159441, rvt_159441, pk_159441, tr_159441, pos_159441, mot_159441, pale_159441),
    "HCP155938": (env_155938, rv_155938, rvt_155938, pk_155938, tr_155938, pos_155938, mot_155938, pale_155938),
    "HCP173637": (env_173637, rv_173637, rvt_173637, pk_173637, tr_173637, pos_173637, mot_173637, pale_173637),
    "HCP178647": (env_178647, rv_178647, rvt_178647, pk_178647, tr_178647, pos_178647, mot_178647, pale_178647),
    "HCP178748": (env_178748, rv_178748, rvt_178748, pk_178748, tr_178748, pos_178748, mot_178748, pale_178748),
    "HCP162026": (env_162026, rv_162026, rvt_162026, pk_162026, tr_162026, pos_162026, mot_162026, pale_162026),
    "HCP164131": (env_164131, rv_164131, rvt_164131, pk_164131, tr_164131, pos_164131, mot_164131, pale_164131),
    "HCP177241": (env_177241, rv_177241, rvt_177241, pk_177241, tr_177241, pos_177241, mot_177241, pale_177241),
    "HCP199453": (env_199453, rv_199453, rvt_199453, pk_199453, tr_199453, pos_199453, mot_199453, pale_199453),
    "HCP140319": (env_140319, rv_140319, rvt_140319, pk_140319, tr_140319, pos_140319, mot_140319, pale_140319),
    "HCP142828": (env_142828, rv_142828, rvt_142828, pk_142828, tr_142828, pos_142828, mot_142828, pale_142828),
    "HCP181232": (env_181232, rv_181232, rvt_181232, pk_181232, tr_181232, pos_181232, mot_181232, pale_181232),
    "HCP620434": (env_620434, rv_620434, rvt_620434, pk_620434, tr_620434, pos_620434, mot_620434, pale_620434),
}

# ---------------- layout constants (pixels) ----------------
RED_PX = [147.5, 521, 1060, 1435, 1925.5, 2300]   # onset line x per column
ROW_TOP = [78, 616, 1154]                         # top of the circled box per row
ROW_H = 447                                       # box height
PXS = 230 / 90.0                                  # pixels per second
FONT = "Arial, Liberation Sans, Helvetica, sans-serif"
Y_SEP, Y_MTOP, Y_MBOT = 48.5, 14.9, 5.2

fig = go.Figure()
axes = {}
shapes = []
annots = []
traces = []


def lin(ts, te, n):
    return np.linspace(ts, te, n).tolist()


for k, subj in enumerate(subjects):
    r, c = divmod(k, 6)
    n = k + 1
    xa = "x" if n == 1 else f"x{n}"
    ya = "y" if n == 1 else f"y{n}"
    ts, te = t_start[k], t_end[k]
    u = ROW_H / 100.0
    top, bot = ROW_TOP[r], ROW_TOP[r] + ROW_H
    axes["xaxis" if n == 1 else f"xaxis{n}"] = dict(
        domain=[(RED_PX[c] + ts * PXS) / W, (RED_PX[c] + te * PXS) / W],
        range=[ts, te], visible=False, anchor=ya, fixedrange=True)
    axes["yaxis" if n == 1 else f"yaxis{n}"] = dict(
        domain=[1 - (bot + 2 * u) / H, 1 - (top - 2 * u) / H],
        range=[-2, 102], visible=False, anchor=xa, fixedrange=True)

    env, rv, rvt, pk, tr, pos, mot, pale = panels[subj]
    common = dict(xaxis=xa, yaxis=ya, hoverinfo="skip", showlegend=False)

    for line in pos:
        traces.append(go.Scatter(x=lin(ts, te, len(line)), y=line, mode="lines",
                                 line=dict(color="#d2d2d2", width=1.2), connectgaps=False, **common))
    traces.append(go.Scatter(x=lin(ts, te, len(pale)), y=pale, mode="lines",
                             line=dict(color="#ffbcbc", width=1.3), **common))
    traces.append(go.Scatter(x=lin(ts, te, len(mot)), y=mot, mode="lines",
                             line=dict(color="#ff0000", width=1.4), **common))
    traces.append(go.Scatter(x=lin(ts, te, len(env)), y=env, mode="lines",
                             line=dict(color="#ff2020", width=1.1), **common))
    traces.append(go.Scatter(x=lin(ts, te, len(rv)), y=rv, mode="lines",
                             line=dict(color="#1f1fff", width=1.1), **common))
    traces.append(go.Scatter(x=lin(ts, te, len(rvt)), y=rvt, mode="lines+markers",
                             line=dict(color="#222222", width=1), marker=dict(size=3.5, color="#111111"),
                             connectgaps=False, **common))
    resp = []
    for a, b in zip(tr, pk):
        resp += [a, b]
    traces.append(go.Scatter(x=lin(ts, te, len(resp)), y=resp, mode="lines",
                             line=dict(color="#4040ff", width=1.2, shape="spline", smoothing=0.8), **common))

    # separators
    shapes.append(dict(type="line", xref=xa, yref=ya, x0=ts, x1=te, y0=Y_SEP, y1=Y_SEP,
                       line=dict(color="#9b9b9b", width=1.6), layer="below"))
    for yy in (Y_MTOP, Y_MBOT):
        shapes.append(dict(type="line", xref=xa, yref=ya, x0=ts, x1=te, y0=yy, y1=yy,
                           line=dict(color="#555555", width=1.2), layer="below"))
    # onset lines
    shapes.append(dict(type="line", xref=xa, yref=ya, x0=0, x1=0, y0=Y_SEP, y1=85.5,
                       line=dict(color="#ff4d4d", width=1.2), layer="above"))
    shapes.append(dict(type="line", xref=xa, yref=ya, x0=0, x1=0, y0=Y_MBOT, y1=42,
                       line=dict(color="#ff4d4d", width=1.2), layer="above"))
    # rounded box around the 90 s window
    bx0, bx1 = box_window
    rx, ry = 30 / PXS, 30 / u
    path = (f"M {bx0 + rx},100 L {bx1 - rx},100 Q {bx1},100 {bx1},{100 - ry} "
            f"L {bx1},{ry} Q {bx1},0 {bx1 - rx},0 L {bx0 + rx},0 Q {bx0},0 {bx0},{ry} "
            f"L {bx0},{100 - ry} Q {bx0},100 {bx0 + rx},100 Z")
    shapes.append(dict(type="path", xref=xa, yref=ya, path=path,
                       line=dict(color="black", width=5.5), layer="above"))
    # titles
    xc = (bx0 + bx1) / 2
    annots.append(dict(x=xc, y=93.5, xref=xa, yref=ya, text=subj, showarrow=False,
                       font=dict(family=FONT, size=31, color="black"), xanchor="center", yanchor="middle"))
    if r == 2:
        annots.append(dict(x=xc, y=1 - 1646 / H, xref=xa, yref="paper", text=footer, showarrow=False,
                           font=dict(family=FONT, size=32, color="black"),
                           xanchor="center", yanchor="middle"))

fig.add_traces(traces)

# column headings
for cx, txt in zip([380, 1284, 2127], col_titles):
    annots.append(dict(x=cx / W, y=1 - 27 / H, xref="paper", yref="paper", text=f"<b>{txt}</b>",
                       showarrow=False, font=dict(family=FONT, size=31.5, color="black"),
                       xanchor="center", yanchor="middle"))

# legend
legend_items = [("ENV", "#ff2a1a", 148, 755, 791, 804), ("RV", "#18a4f5", 182, 755, 791, 804),
                ("RVT", "#000000", 216, 755, 791, 804), ("Resp.", "#6a6aff", 266, 755, 791, 804),
                ("Position", "#999999", 394, 746, 784, 794), ("Motion", "#ff1a1a", 484, 746, 784, 794)]
for lab, col, yy, lx0, lx1, tx in legend_items:
    shapes.append(dict(type="line", xref="paper", yref="paper", x0=lx0 / W, x1=lx1 / W,
                       y0=1 - yy / H, y1=1 - yy / H, line=dict(color=col, width=5)))
    annots.append(dict(x=tx / W, y=1 - yy / H, xref="paper", yref="paper", text=lab, showarrow=False,
                       font=dict(family=FONT, size=31, color=col), xanchor="left", yanchor="middle"))
annots.append(dict(x=804 / W, y=1 - 308 / H, xref="paper", yref="paper", text="trace", showarrow=False,
                   font=dict(family=FONT, size=31, color="#6a6aff"), xanchor="left", yanchor="middle"))

fig.update_layout(width=W, height=H, margin=dict(l=0, r=0, t=0, b=0),
                  paper_bgcolor="white", plot_bgcolor="rgba(0,0,0,0)",
                  showlegend=False, shapes=shapes, annotations=annots, **axes)

fig.write_html("out.html")
